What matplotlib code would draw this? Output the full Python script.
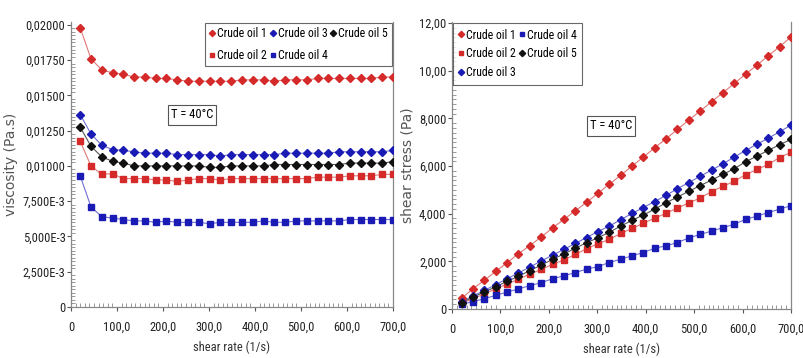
import matplotlib
matplotlib.use("Agg")
import matplotlib.pyplot as plt
from matplotlib.ticker import FixedLocator, AutoMinorLocator

plt.rcParams["font.family"] = ["Roboto Condensed", "Liberation Sans Narrow", "Liberation Sans", "DejaVu Sans"]

# Data
shear_rate = [20.0, 43.4, 66.9, 90.3, 113.8, 137.2, 160.7, 184.1, 207.6, 231.0,
              254.5, 277.9, 301.4, 324.8, 348.3, 371.7, 395.2, 418.6, 442.1, 465.5,
              489.0, 512.4, 535.9, 559.3, 582.8, 606.2, 629.7, 653.1, 676.6, 700.0]

visc_oil1 = [0.0198, 0.0176, 0.0168, 0.0166, 0.0165, 0.0163, 0.0163, 0.0162, 0.0162, 0.0161,
             0.0160, 0.0160, 0.0160, 0.0160, 0.0160, 0.0161, 0.0161, 0.0161, 0.0160, 0.0161,
             0.0161, 0.0161, 0.0162, 0.0162, 0.0162, 0.0162, 0.0162, 0.0162, 0.0163, 0.0163]
visc_oil2 = [0.01175, 0.0100, 0.0094, 0.00945, 0.0091, 0.0091, 0.0091, 0.0090, 0.0090, 0.0089,
             0.0090, 0.0091, 0.0091, 0.0090, 0.0091, 0.0091, 0.0091, 0.0091, 0.0091, 0.0091,
             0.0091, 0.0091, 0.0092, 0.0092, 0.0092, 0.0093, 0.0093, 0.0093, 0.0094, 0.0094]
visc_oil3 = [0.01364, 0.01227, 0.01146, 0.01116, 0.0111, 0.0110, 0.0109, 0.0109, 0.0109, 0.0108,
             0.0108, 0.0108, 0.0108, 0.0107, 0.0108, 0.0108, 0.0108, 0.0108, 0.0108, 0.0109,
             0.0109, 0.0109, 0.0109, 0.0109, 0.0110, 0.0110, 0.0110, 0.0110, 0.0110, 0.0111]
visc_oil4 = [0.0093, 0.0071, 0.0064, 0.0063, 0.0062, 0.0061, 0.0061, 0.0060, 0.0061, 0.0060,
             0.0060, 0.0060, 0.0059, 0.0060, 0.0060, 0.0060, 0.0060, 0.0061, 0.0060, 0.0060,
             0.0061, 0.0061, 0.0061, 0.0061, 0.0061, 0.0062, 0.0062, 0.0062, 0.0062, 0.0062]
visc_oil5 = [0.01274, 0.0114, 0.01064, 0.01033, 0.0102, 0.0100, 0.0100, 0.0100, 0.0100, 0.0100,
             0.0100, 0.0100, 0.0099, 0.0099, 0.0100, 0.0100, 0.0100, 0.0100, 0.0101, 0.0101,
             0.0101, 0.0101, 0.0101, 0.0101, 0.0101, 0.0102, 0.0102, 0.0102, 0.0102, 0.0103]

stress_oil1 = [0.45, 0.85, 1.20, 1.58, 1.94, 2.32, 2.66, 3.02, 3.40, 3.76,
               4.12, 4.48, 4.86, 5.24, 5.61, 6.00, 6.38, 6.77, 7.15, 7.54,
               7.93, 8.31, 8.70, 9.08, 9.47, 9.86, 10.24, 10.63, 11.02, 11.42]
stress_oil2 = [0.23, 0.43, 0.63, 0.85, 1.04, 1.25, 1.46, 1.66, 1.87, 2.06,
               2.29, 2.53, 2.74, 2.92, 3.17, 3.38, 3.60, 3.81, 4.02, 4.24,
               4.45, 4.66, 4.93, 5.15, 5.36, 5.64, 5.86, 6.07, 6.36, 6.58]
stress_oil3 = [0.30, 0.55, 0.78, 1.02, 1.27, 1.51, 1.76, 2.01, 2.26, 2.50,
               2.75, 3.00, 3.25, 3.48, 3.75, 4.01, 4.26, 4.51, 4.77, 5.05,
               5.31, 5.57, 5.83, 6.09, 6.38, 6.65, 6.92, 7.17, 7.44, 7.72]
stress_oil4 = [0.19, 0.31, 0.43, 0.57, 0.71, 0.84, 0.98, 1.10, 1.27, 1.39,
               1.53, 1.67, 1.78, 1.95, 2.09, 2.23, 2.37, 2.55, 2.65, 2.79,
               2.98, 3.13, 3.27, 3.41, 3.56, 3.76, 3.90, 4.05, 4.19, 4.34]
stress_oil5 = [0.26, 0.50, 0.71, 0.93, 1.16, 1.37, 1.61, 1.84, 2.08, 2.31,
               2.55, 2.78, 2.99, 3.22, 3.48, 3.72, 3.95, 4.19, 4.46, 4.70,
               4.94, 5.18, 5.41, 5.65, 5.89, 6.18, 6.42, 6.66, 6.90, 7.12]

labels = ["Crude oil 1", "Crude oil 2", "Crude oil 3", "Crude oil 4", "Crude oil 5"]
visc_series = [visc_oil1, visc_oil2, visc_oil3, visc_oil4, visc_oil5]
stress_series = [stress_oil1, stress_oil2, stress_oil3, stress_oil4, stress_oil5]

RED = "#d42a2a"
BLUE = "#1a1ab4"
BLACK = "#111111"
STYLES = [
    (RED, "D", "#e07878"),
    (RED, "s", "#e07878"),
    (BLUE, "D", "#7070d0"),
    (BLUE, "s", "#7070d0"),
    (BLACK, "D", "#555555"),
]

x_ticks = [0, 100, 200, 300, 400, 500, 600, 700]
x_ticklabels = ["0", "100,0", "200,0", "300,0", "400,0", "500,0", "600,0", "700,0"]
visc_ticks = [0, 0.0025, 0.005, 0.0075, 0.01, 0.0125, 0.015, 0.0175, 0.02]
visc_ticklabels = ["0", "2,500E-3", "5,000E-3", "7,500E-3", "0,01000",
                   "0,01250", "0,01500", "0,01750", "0,02000"]
stress_ticks = [0, 2, 4, 6, 8, 10, 12]
stress_ticklabels = ["0", "2,000", "4,000", "6,000", "8,000", "10,00", "12,00"]


def style_axes(ax, yticks, yticklabels):
    ax.set_xlim(0, 700)
    ax.xaxis.set_major_locator(FixedLocator(x_ticks))
    ax.set_xticklabels(x_ticklabels)
    ax.yaxis.set_major_locator(FixedLocator(yticks))
    ax.set_yticklabels(yticklabels)
    ax.xaxis.set_minor_locator(AutoMinorLocator(10))
    ax.yaxis.set_minor_locator(AutoMinorLocator(10))
    ax.tick_params(which="major", direction="out", length=3, width=0.8,
                   colors="#555555", labelcolor="#222222", labelsize=9)
    ax.tick_params(axis="x", which="major", pad=7)
    ax.tick_params(axis="y", which="major", pad=1)
    ax.tick_params(which="minor", direction="in", length=3, width=0.6, colors="#888888")
    ax.spines["top"].set_visible(False)
    for side in ["left", "bottom", "right"]:
        ax.spines[side].set_color("#888888")
        ax.spines[side].set_linewidth(0.9)
    ax.set_xlabel("shear rate (1/s)", fontsize=9, color="#333333", labelpad=5)


fig = plt.figure(figsize=(8.04, 3.58), dpi=100)
ax1 = fig.add_axes([0.0883, 0.1425, 0.4005, 0.796])
ax2 = fig.add_axes([0.5622, 0.137, 0.4216, 0.8015])

handles1 = []
for ys, lab, (col, mk, lc) in zip(visc_series, labels, STYLES):
    ax1.plot(shear_rate, ys, color=lc, linewidth=0.8, zorder=2)
    h = ax1.plot(shear_rate, ys, linestyle="none", marker=mk, markersize=4,
                 color=col, label=lab, zorder=3)[0]
    handles1.append(h)

handles2 = []
for ys, lab, (col, mk, lc) in zip(stress_series, labels, STYLES):
    ax2.plot(shear_rate, ys, color=lc, linewidth=0.8, zorder=2)
    h = ax2.plot(shear_rate, ys, linestyle="none", marker=mk, markersize=4,
                 color=col, label=lab, zorder=3)[0]
    handles2.append(h)

style_axes(ax1, visc_ticks, visc_ticklabels)
ax1.set_ylim(0, 0.0202)
ax1.set_ylabel("viscosity (Pa.s)", fontsize=10, color="#555555",
               family=["DejaVu Sans"], labelpad=3)

style_axes(ax2, stress_ticks, stress_ticklabels)
ax2.set_ylim(0, 12.05)
ax2.set_ylabel("shear stress (Pa)", fontsize=10, color="#555555",
               family=["DejaVu Sans"], labelpad=3)

leg_kw = dict(fontsize=8.5, frameon=True, fancybox=False,
              handlelength=0.5, handletextpad=0.15, columnspacing=0.25,
              borderaxespad=0.1, markerscale=0.8)
leg1 = ax1.legend(handles=handles1, ncol=3, loc="upper right", labelspacing=0.75,
                  borderpad=0.35, **leg_kw)
leg2 = ax2.legend(handles=handles2, ncol=2, loc="upper left", labelspacing=0.5,
                  borderpad=0.45, **leg_kw)
for leg in (leg1, leg2):
    leg.get_frame().set_edgecolor("#444444")
    leg.get_frame().set_linewidth(0.8)

box = dict(boxstyle="square,pad=0.25", facecolor="white", edgecolor="#555555", linewidth=0.8)
ax1.text(0.376, 0.674, "T = 40°C", transform=ax1.transAxes, fontsize=9,
         ha="center", va="center", bbox=box)
ax2.text(0.469, 0.638, "T = 40°C", transform=ax2.transAxes, fontsize=9,
         ha="center", va="center", bbox=box)

fig.savefig("out.png", dpi=100)
